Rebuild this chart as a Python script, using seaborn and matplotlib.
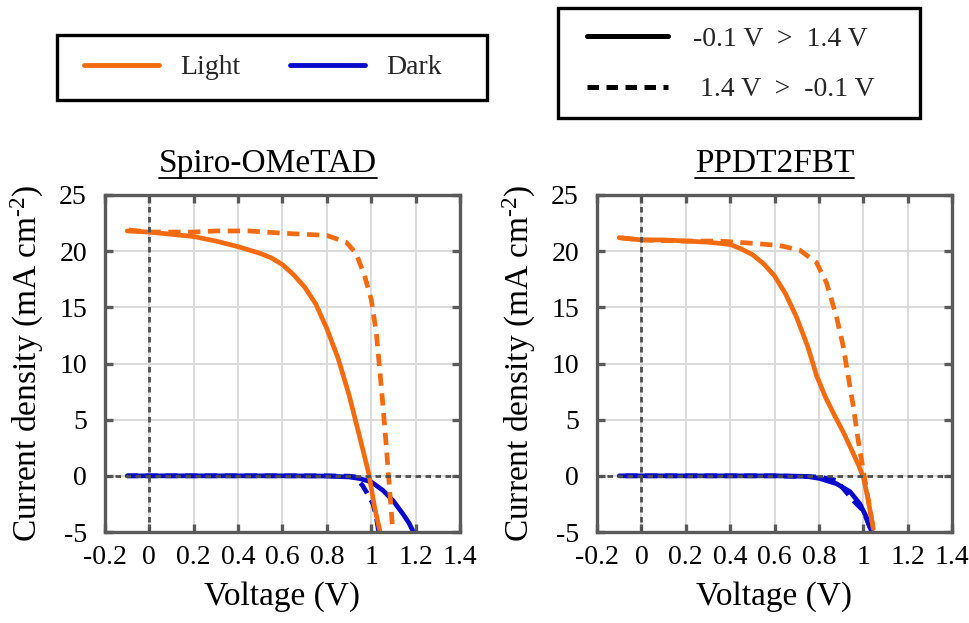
import numpy as np
import pandas as pd
import matplotlib
matplotlib.use("Agg")
import matplotlib.pyplot as plt
import seaborn as sns
from matplotlib.lines import Line2D
from matplotlib.patches import Rectangle

# ---------------- data ----------------
panel_titles = ["Spiro-OMeTAD", "PPDT2FBT"]
x_ticks = [-0.2, 0.0, 0.2, 0.4, 0.6, 0.8, 1.0, 1.2, 1.4]
x_tick_labels = ["-0.2", "0", "0.2", "0.4", "0.6", "0.8", "1", "1.2", "1.4"]
y_ticks = [-5, 0, 5, 10, 15, 20, 25]
cond_labels = ["Light", "Dark"]
scan_labels = ["-0.1 V  >  1.4 V", " 1.4 V  >  -0.1 V"]

# Spiro-OMeTAD
spiro_light_fwd_v = [-0.10, 0.00, 0.10, 0.20, 0.30, 0.40, 0.50, 0.55, 0.60, 0.65, 0.70, 0.75, 0.80, 0.85, 0.90, 0.95, 0.99, 1.015, 1.04]
spiro_light_fwd_j = [21.8, 21.7, 21.5, 21.3, 20.9, 20.4, 19.8, 19.4, 18.8, 17.9, 16.8, 15.3, 13.1, 10.5, 7.2, 3.3, 0.1, -2.8, -5.0]
spiro_light_rev_v = [1.095, 1.083, 1.068, 1.053, 1.038, 1.023, 1.000, 0.970, 0.932, 0.887, 0.80, 0.70, 0.60, 0.45, 0.30, 0.20, 0.10, 0.00, -0.10]
spiro_light_rev_j = [-4.3, -1.3, 2.6, 6.2, 9.5, 12.7, 15.7, 17.8, 19.8, 20.8, 21.4, 21.5, 21.6, 21.8, 21.8, 21.7, 21.7, 21.7, 21.9]
spiro_dark_fwd_v = [-0.10, 0.00, 0.20, 0.40, 0.60, 0.80, 0.90, 0.947, 1.00, 1.053, 1.098, 1.143, 1.17, 1.19]
spiro_dark_fwd_j = [0.0, 0.0, 0.0, 0.0, 0.0, -0.02, -0.1, -0.24, -0.54, -1.3, -2.2, -3.4, -4.2, -5.0]
spiro_dark_rev_v = [1.033, 1.023, 1.008, 0.977, 0.962, 0.945, 0.932, 0.90, 0.80, 0.60, 0.40, 0.20, 0.00, -0.10]
spiro_dark_rev_j = [-4.9, -3.7, -2.5, -1.4, -0.9, -0.5, -0.1, -0.03, 0.0, 0.0, 0.0, 0.0, 0.0, 0.0]

# PPDT2FBT
ppdt_light_fwd_v = [-0.10, 0.00, 0.10, 0.20, 0.30, 0.40, 0.45, 0.50, 0.55, 0.60, 0.65, 0.70, 0.75, 0.79, 0.83, 0.87, 0.91, 0.95, 0.98, 1.00, 1.02, 1.045]
ppdt_light_fwd_j = [21.2, 21.0, 21.0, 20.9, 20.8, 20.6, 20.2, 19.7, 18.9, 17.8, 16.2, 14.1, 11.5, 8.9, 7.0, 5.4, 3.9, 2.2, 0.9, -0.1, -1.9, -4.7]
ppdt_light_rev_v = [1.042, 1.023, 1.000, 0.977, 0.955, 0.932, 0.909, 0.879, 0.834, 0.789, 0.713, 0.623, 0.502, 0.351, 0.20, 0.00, -0.10]
ppdt_light_rev_j = [-4.3, -2.2, 0.5, 3.2, 6.2, 8.9, 11.6, 14.2, 17.2, 19.0, 20.1, 20.5, 20.7, 20.9, 20.9, 21.0, 21.2]
ppdt_dark_fwd_v = [-0.10, 0.00, 0.20, 0.40, 0.60, 0.75, 0.804, 0.879, 0.94, 0.985, 1.015, 1.038]
ppdt_dark_fwd_j = [0.0, 0.0, 0.0, 0.0, 0.0, -0.05, -0.24, -0.7, -1.4, -2.5, -3.7, -5.0]
ppdt_dark_rev_v = [1.03, 1.00, 0.955, 0.879, 0.80, 0.60, 0.40, 0.20, 0.00, -0.10]
ppdt_dark_rev_j = [-4.6, -3.1, -2.2, -0.4, -0.1, 0.0, 0.0, 0.0, 0.0, 0.0]

panels = [
    {("Dark", "fwd"): (spiro_dark_fwd_v, spiro_dark_fwd_j),
     ("Dark", "rev"): (spiro_dark_rev_v, spiro_dark_rev_j),
     ("Light", "fwd"): (spiro_light_fwd_v, spiro_light_fwd_j),
     ("Light", "rev"): (spiro_light_rev_v, spiro_light_rev_j)},
    {("Dark", "fwd"): (ppdt_dark_fwd_v, ppdt_dark_fwd_j),
     ("Dark", "rev"): (ppdt_dark_rev_v, ppdt_dark_rev_j),
     ("Light", "fwd"): (ppdt_light_fwd_v, ppdt_light_fwd_j),
     ("Light", "rev"): (ppdt_light_rev_v, ppdt_light_rev_j)},
]

# ---------------- style ----------------
sns.set_theme(style="whitegrid")
plt.rcParams["font.family"] = ["Liberation Serif", "DejaVu Serif"]
plt.rcParams["mathtext.fontset"] = "custom"
plt.rcParams["mathtext.rm"] = "Liberation Serif"
plt.rcParams["mathtext.it"] = "Liberation Serif:italic"
plt.rcParams["axes.unicode_minus"] = False

ORANGE = "#F26B10"
BLUE = "#0A0ACC"
SPINE = "#5A5A5A"
GRID = "#DADADA"
ZERO = "#4F4F4F"

fig = plt.figure(figsize=(9.7, 6.23), dpi=100)
W, H = 970.0, 623.0
axes = [fig.add_axes([105 / W, 1 - 532 / H, 355 / W, 337 / H]),
        fig.add_axes([597 / W, 1 - 532 / H, 355 / W, 337 / H])]
title_x = [0.46, 0.5]

for ax, series, title, tx in zip(axes, panels, panel_titles, title_x):
    frames = []
    for (cond, scan), (v, j) in series.items():
        frames.append(pd.DataFrame({"V": v, "J": j, "cond": cond, "scan": scan}))
    df = pd.concat(frames, ignore_index=True)
    sns.lineplot(data=df, x="V", y="J", hue="cond", style="scan",
                 hue_order=["Dark", "Light"], style_order=["fwd", "rev"],
                 palette={"Light": ORANGE, "Dark": BLUE},
                 dashes={"fwd": "", "rev": (2.6, 1.6)},
                 sort=False, estimator=None, linewidth=3.4, legend=False, ax=ax)

    ax.axhline(0, color=ZERO, lw=2.0, ls=(0, (2.0, 1.6)), zorder=5)
    ax.axvline(0, color=ZERO, lw=2.0, ls=(0, (2.0, 1.6)), zorder=5)

    ax.set_xlim(-0.2, 1.4)
    ax.set_ylim(-5, 25)
    ax.set_xticks(x_ticks)
    ax.set_xticklabels(x_tick_labels)
    ax.set_yticks(y_ticks)
    ax.set_yticklabels([str(t) for t in y_ticks])
    ax.grid(True, color=GRID, linewidth=1.4)
    ax.set_axisbelow(True)
    ax.tick_params(direction="in", length=6, width=2.4, color=SPINE,
                   bottom=True, top=True, left=True, right=True,
                   labelsize=20, labelcolor="black")
    ax.tick_params(axis="y", pad=13)
    ax.tick_params(axis="x", pad=9)
    for sp in ax.spines.values():
        sp.set_color(SPINE)
        sp.set_linewidth(2.4)
        sp.set_zorder(6)

    ax.set_xlabel("Voltage (V)", fontsize=24, color="black")
    ax.set_ylabel(r"Current density (mA cm$^{\text{-2}}$)", fontsize=24, color="black")
    ax.xaxis.set_label_coords(0.5, -0.145)
    ax.yaxis.set_label_coords(-0.165, 0.5)
    ax.set_title(title, fontsize=24, pad=16.5, color="black", x=tx)

# ---------------- legends ----------------
fig.patches.append(Rectangle((57 / W, 1 - 100 / H), 430 / W, 65 / H, transform=fig.transFigure,
                             fill=False, edgecolor="black", linewidth=2.4, zorder=10))
fig.patches.append(Rectangle((558 / W, 1 - 118 / H), 362 / W, 110 / H, transform=fig.transFigure,
                             fill=False, edgecolor="black", linewidth=2.4, zorder=10))

h1 = [Line2D([], [], color=ORANGE, lw=3.5), Line2D([], [], color=BLUE, lw=3.5)]
fig.legend(handles=h1, labels=cond_labels, ncol=2, loc="center",
           bbox_to_anchor=(263 / W, 1 - 67.5 / H), frameon=False, fontsize=20,
           handlelength=2.7, handletextpad=0.75, columnspacing=1.8)

h2 = [Line2D([], [], color="black", lw=3.6),
      Line2D([], [], color="black", lw=3.6, ls=(0, (2.3, 1.5)))]
fig.legend(handles=h2, labels=scan_labels, ncol=1, loc="center",
           bbox_to_anchor=(731 / W, 1 - 64.5 / H), frameon=False, fontsize=20,
           handlelength=2.9, handletextpad=0.9, labelspacing=0.9)

# ---------------- underline titles ----------------
fig.canvas.draw()
renderer = fig.canvas.get_renderer()
for ax in axes:
    t = ax.title
    bb = t.get_window_extent(renderer)
    bx, by = t.get_transform().transform(t.get_position())
    y_ul = by - 6
    p0 = fig.transFigure.inverted().transform((bb.x0, y_ul))
    p1 = fig.transFigure.inverted().transform((bb.x1, y_ul))
    fig.lines.append(Line2D([p0[0], p1[0]], [p0[1], p1[1]], color="black", lw=1.3,
                            transform=fig.transFigure))

fig.savefig("out.png", dpi=100)
